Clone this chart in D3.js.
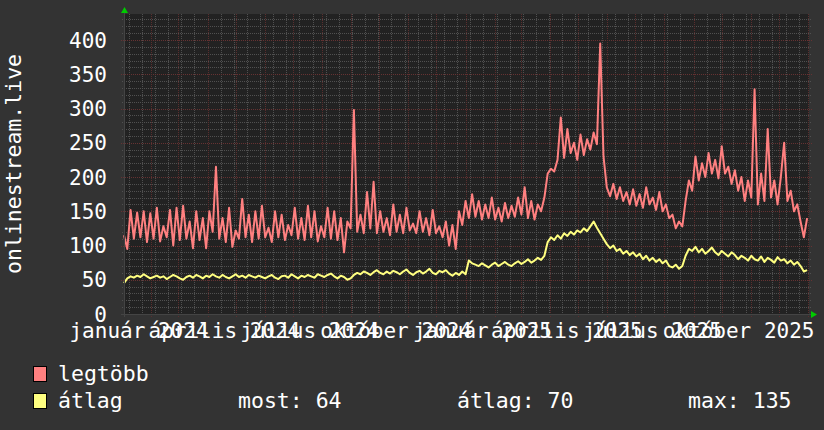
<!DOCTYPE html>
<html><head><meta charset="utf-8">
<script src="https://cdn.jsdelivr.net/npm/d3@7/dist/d3.min.js"></script>
<style>body{margin:0;background:#333333;} svg{display:block}</style>
</head><body>
<svg id="chart" width="824" height="430"></svg>
<script>
// ---- data ----
const startDate = new Date(2024, 0, 3);
const endDate = new Date(2026, 0, 2);
const stepDays = 3.5;
const maxValues = [
115,95,152,110,148,112,150,105,147,110,155,106,128,112,152,100,155,108,158,110,135,96,150,108,140,96,150,120,215,110,140,105,155,98,122,110,168,112,145,105,150,110,158,112,126,105,150,112,145,108,130,115,155,110,140,108,158,112,150,106,128,112,155,110,150,108,140,90,135,125,
298,120,145,118,178,125,193,118,150,120,140,115,160,120,145,118,155,122,132,118,150,120,140,115,152,118,128,112,135,100,130,95,150,130,165,
140,175,142,165,138,160,140,170,138,155,135,162,140,158,142,170,145,185,140,165,138,160,150,
170,205,212,208,225,287,228,270,235,250,225,262,232,255,240,265,248,395,230,
185,172,190,168,185,165,178,160,182,158,175,155,185,160,170,152,178,150,160,140,145,125,135,128,
165,195,180,230,195,220,200,235,205,225,198,245,205,215,190,210,180,200,165,195,
170,328,160,205,165,270,170,195,160,200,250,165,180,150,160,135,112,140
];
const avgValues = [
45,52,55,53,56,54,58,55,52,54,56,53,55,51,54,57,55,52,50,54,56,53,57,55,52,56,54,58,55,53,57,54,52,55,58,54,56,53,57,55,53,
56,54,52,55,57,53,51,55,56,53,58,55,52,56,54,57,55,53,58,56,54,57,59,55,52,56,54,50,52,57,
60,58,62,60,57,61,64,60,58,62,59,63,61,58,62,65,60,57,61,63,59,62,66,60,58,63,61,64,59,56,60,57,62,58,
78,74,72,70,74,71,68,72,75,70,73,76,72,70,74,77,73,76,80,75,78,82,79,
85,105,112,108,115,110,118,114,120,116,122,119,125,121,128,135,126,118,110,
102,96,100,92,95,88,92,86,90,84,88,80,85,78,82,76,80,74,78,70,68,72,66,70,
85,95,92,98,90,95,88,92,97,90,86,92,88,84,90,86,80,85,82,78,
85,80,78,84,76,82,79,75,83,78,80,74,78,72,76,70,62,64
];
const yTicks = [0, 50, 100, 150, 200, 250, 300, 350, 400];
const monthNames = ["január","február","március","április","május","június","július","augusztus","szeptember","október","november","december"];
const labelMonths = [[2024,0],[2024,3],[2024,6],[2024,9],[2025,0],[2025,3],[2025,6],[2025,9]];
const yTitle = "onlinestream.live";
const seriesNames = ["legtöbb", "átlag"];
const seriesColors = ["#ff8080", "#ffff80"];
const statTexts = ["most: 64", "átlag: 70", "max: 135"];

// ---- layout ----
const X0 = 124, X1 = 809, Y0 = 314, Y1 = 14;
const svg = d3.select("#chart");
const font = "'DejaVu Sans Mono', monospace";
const x = d3.scaleTime().domain([startDate, endDate]).range([X0, X1]);
const y = d3.scaleLinear().domain([0, 438]).range([Y0, Y1]);
const dateAt = i => new Date(startDate.getTime() + i * stepDays * 86400000);

svg.append("rect").attr("width", 824).attr("height", 430).attr("fill", "#333333");
svg.append("rect").attr("x", X0).attr("y", Y1).attr("width", X1 - X0).attr("height", Y0 - Y1).attr("fill", "#222222");

const grid = svg.append("g").attr("shape-rendering", "crispEdges");
const minorCol = "#505050", majorCol = "#5a2e2e";
// minor horizontal
const minorY = d3.range(10, 440, 10).filter(v => v % 50 !== 0);
grid.selectAll(".hmin").data(minorY).join("line")
  .attr("x1", X0 - 2).attr("x2", X1 + 2).attr("y1", d => Math.round(y(d)) + 0.5).attr("y2", d => Math.round(y(d)) + 0.5)
  .attr("stroke", minorCol).attr("stroke-dasharray", "1,1");
// minor vertical (every two weeks)
const minorX = d3.range(0, 60).map(k => new Date(2024, 0, 8 + 14 * k)).filter(d => d >= startDate && d <= endDate);
grid.selectAll(".vmin").data(minorX).join("line")
  .attr("x1", d => Math.round(x(d)) + 0.5).attr("x2", d => Math.round(x(d)) + 0.5).attr("y1", Y1).attr("y2", Y0 + 2)
  .attr("stroke", minorCol).attr("stroke-dasharray", "1,1");
// major horizontal
grid.selectAll(".hmaj").data(yTicks.filter(v => v > 0)).join("line")
  .attr("x1", X0 - 3).attr("x2", X1 + 3).attr("y1", d => Math.round(y(d)) + 0.5).attr("y2", d => Math.round(y(d)) + 0.5)
  .attr("stroke", "#663232").attr("stroke-dasharray", "1,1");
// major vertical (months)
const majorX = d3.timeMonth.range(startDate, endDate);
grid.selectAll(".vmaj").data(majorX).join("line")
  .attr("x1", d => Math.round(x(d)) + 0.5).attr("x2", d => Math.round(x(d)) + 0.5).attr("y1", Y1).attr("y2", Y0 + 3)
  .attr("stroke", majorCol).attr("stroke-dasharray", "1,1");

// series
const line = d3.line().x((d, i) => x(dateAt(i))).y(d => y(d));
svg.append("path").datum(maxValues).attr("d", line).attr("fill", "none")
  .attr("stroke", seriesColors[0]).attr("stroke-width", 2).attr("stroke-linejoin", "round");
svg.append("path").datum(avgValues).attr("d", line).attr("fill", "none")
  .attr("stroke", seriesColors[1]).attr("stroke-width", 2).attr("stroke-linejoin", "round");

// axes
const ax = svg.append("g").attr("shape-rendering", "crispEdges");
ax.append("line").attr("x1", X0 - 3).attr("x2", X1 + 4).attr("y1", Y0 + 0.5).attr("y2", Y0 + 0.5).attr("stroke", "#444");
ax.append("line").attr("x1", X0 + 0.5).attr("x2", X0 + 0.5).attr("y1", Y0 + 3).attr("y2", Y1 - 3).attr("stroke", "#444");
svg.append("path").attr("d", `M${X0 - 3},${Y1 - 1} L${X0 + 4},${Y1 - 1} L${X0 + 0.5},${Y1 - 7} Z`).attr("fill", "#00cc00");
svg.append("path").attr("d", `M${X1 + 2},${Y0 - 3} L${X1 + 2},${Y0 + 4} L${X1 + 8},${Y0 + 0.5} Z`).attr("fill", "#00cc00");

// y labels
svg.selectAll(".ylab").data(yTicks).join("text")
  .attr("x", 107).attr("y", d => y(d) + 7.6).attr("text-anchor", "end")
  .attr("font-family", font).attr("font-size", 21).attr("fill", "#ffffff").text(d => d);

// x labels (placed a little over half a month after the month start)
svg.selectAll(".xlab").data(labelMonths).join("text")
  .attr("x", d => x(new Date(d[0], d[1], 19))).attr("y", 338).attr("text-anchor", "middle")
  .attr("font-family", font).attr("font-size", 21).attr("fill", "#ffffff")
  .text(d => monthNames[d[1]] + " " + d[0]);

// y title
svg.append("text").attr("transform", `translate(21,${(Y0 + Y1) / 2}) rotate(-90)`).attr("text-anchor", "middle")
  .attr("font-family", font).attr("font-size", 21.5).attr("fill", "#ffffff").text(yTitle);

// legend
const lg = svg.append("g");
seriesNames.forEach((name, k) => {
  const by = 381 + k * 27;
  lg.append("rect").attr("x", 33.5).attr("y", by - 14.5).attr("width", 13).attr("height", 15)
    .attr("fill", seriesColors[k]).attr("stroke", "#000").attr("stroke-width", 1);
  lg.append("text").attr("x", 58).attr("y", by).attr("font-family", font).attr("font-size", 21.5)
    .attr("fill", "#fff").text(name);
});
const statX = [238, 457, 688];
statTexts.forEach((t, k) => {
  lg.append("text").attr("x", statX[k]).attr("y", 408).attr("font-family", font).attr("font-size", 21.5)
    .attr("fill", "#fff").attr("xml:space", "preserve").text(t);
});
</script>
</body></html>
